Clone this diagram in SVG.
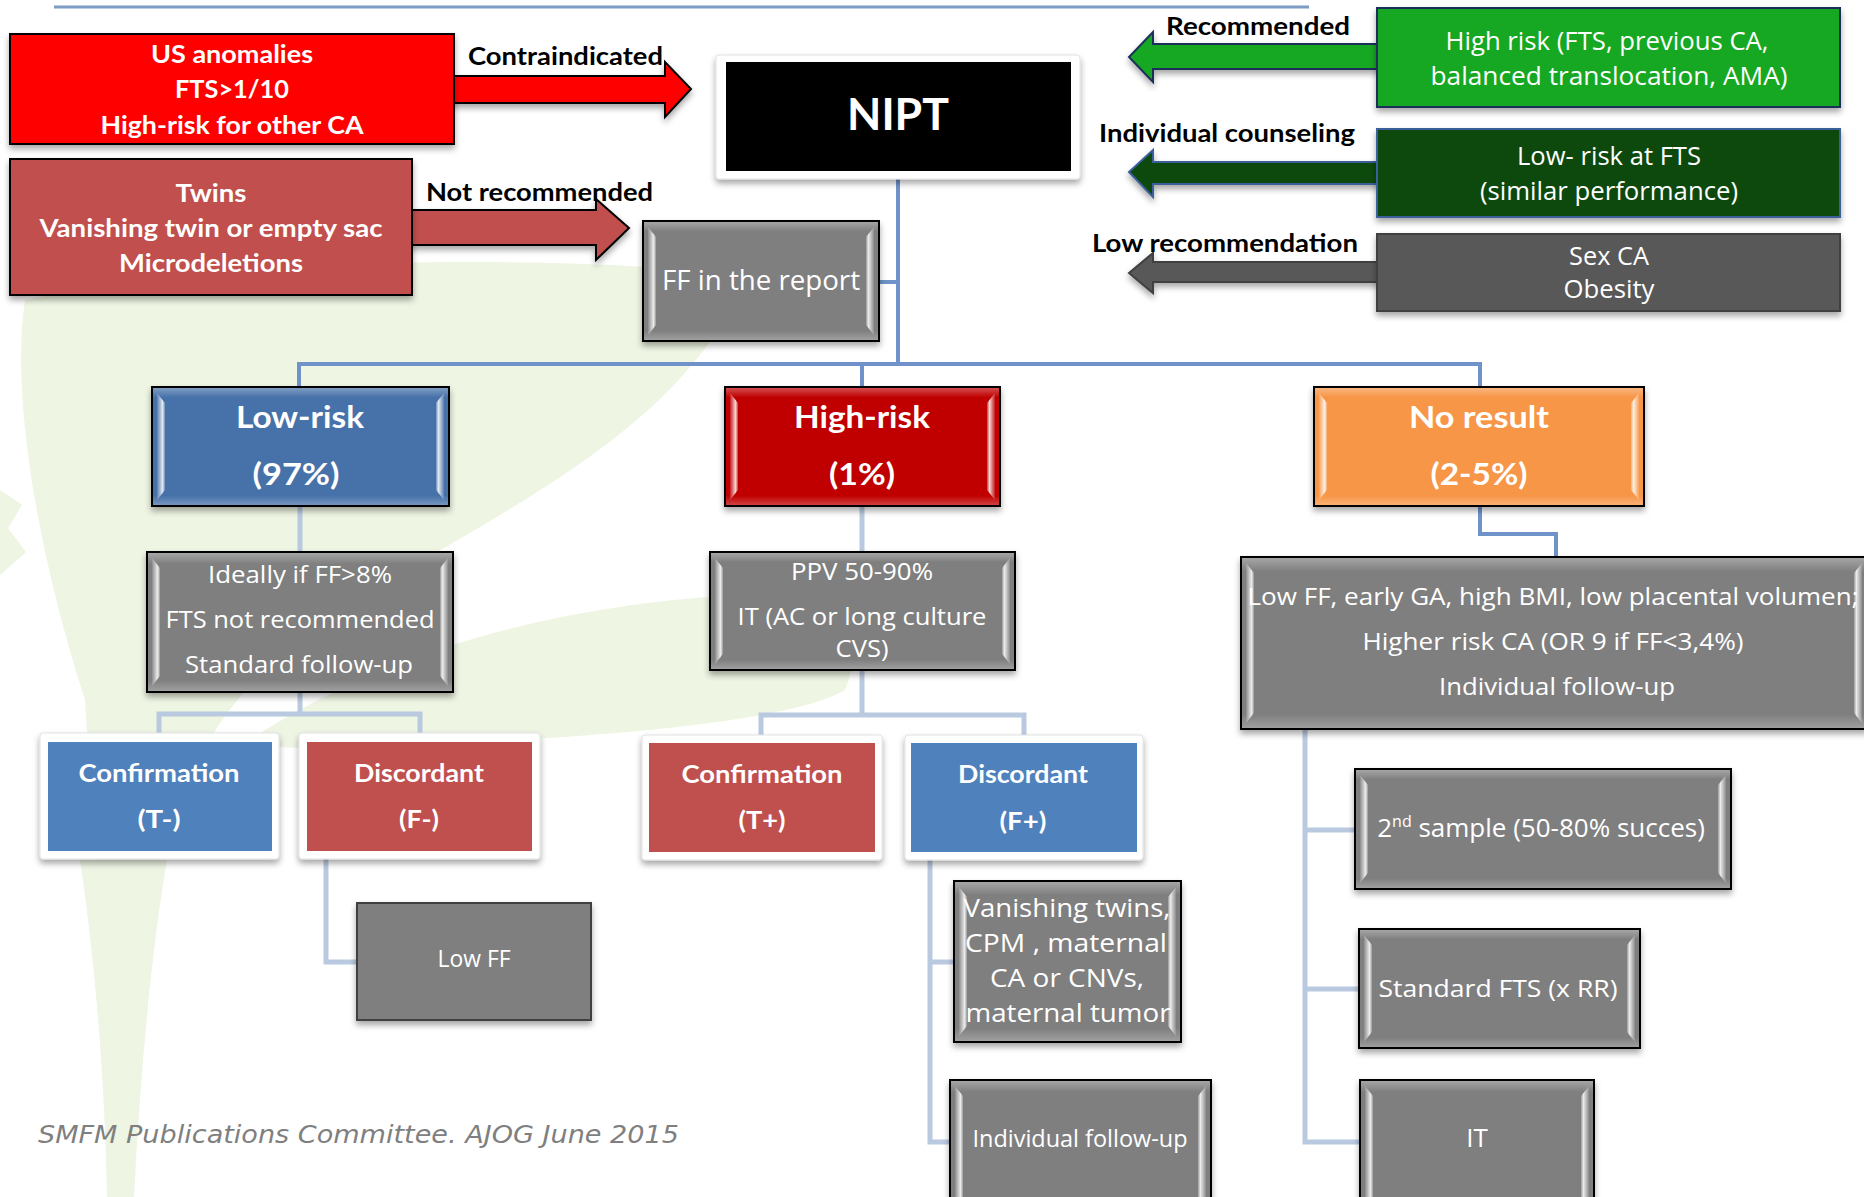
<svg xmlns="http://www.w3.org/2000/svg" width="1864" height="1197" viewBox="0 0 1864 1197">
<defs>
<style>
.t{font-family:"Open Sans","Liberation Sans",sans-serif;font-size:24px;fill:#fff;text-anchor:middle}
.tb{font-family:Lato,"Liberation Sans",sans-serif;font-weight:700;font-size:24px;fill:#fff;text-anchor:middle}
.big{font-size:30px}
.s25{font-size:25px}
.s26{font-size:26px}
.s28{font-size:28px}
.s44{font-size:44px}
.lbl{font-family:Lato,"Liberation Sans",sans-serif;font-weight:700;font-size:24px;fill:#000}
.bx{stroke:#000;stroke-width:2;filter:url(#sh)}
.gray{fill:#7f7f7f}
.ov{fill:url(#gV)}
.hl{fill:url(#gL)}
.hr{fill:url(#gR)}
.c1{fill:none;stroke:#6f92c8;stroke-width:4}
.c2{fill:none;stroke:#b9c9e0;stroke-width:5}
.leaf{fill:#eef5e3}
.frame{fill:#fff;stroke:#e2e2e2;stroke-width:1;filter:url(#sh)}
</style>
<filter id="sh" x="-10%" y="-10%" width="125%" height="135%">
<feDropShadow dx="0" dy="4" stdDeviation="3" flood-color="#000" flood-opacity="0.35"/>
</filter>
<linearGradient id="gL" x1="0" y1="0" x2="1" y2="0">
<stop offset="0" stop-color="#fff" stop-opacity="0.1"/>
<stop offset="0.7" stop-color="#fff" stop-opacity="0.85"/>
<stop offset="1" stop-color="#fff" stop-opacity="0.2"/>
</linearGradient>
<linearGradient id="gR" x1="1" y1="0" x2="0" y2="0">
<stop offset="0" stop-color="#fff" stop-opacity="0.1"/>
<stop offset="0.7" stop-color="#fff" stop-opacity="0.85"/>
<stop offset="1" stop-color="#fff" stop-opacity="0.2"/>
</linearGradient>
<linearGradient id="gV" x1="0" y1="0" x2="0" y2="1">
<stop offset="0" stop-color="#fff" stop-opacity="0.3"/>
<stop offset="0.08" stop-color="#fff" stop-opacity="0"/>
<stop offset="0.92" stop-color="#fff" stop-opacity="0"/>
<stop offset="1" stop-color="#fff" stop-opacity="0.25"/>
</linearGradient>
</defs>
<rect width="1864" height="1197" fill="#fff"/>

<g id="background">
<path class="leaf" d="M745,275 C600,258 250,250 25,300 C10,400 40,560 85,700 L95,860 L80,860 C95,960 105,1080 107,1197 L134,1197 C140,1080 150,960 167,860 L160,860 C200,700 300,620 446,547 C560,480 700,400 745,275 Z"/>
<path class="leaf" d="M250,740 C400,640 600,595 800,593 C850,597 862,650 845,690 C790,722 600,738 400,745 C330,748 280,752 250,740 Z"/>
<path class="leaf" d="M0,490 L22,505 L8,528 L26,552 L0,575 Z"/>
</g>

<path id="topline" d="M54,7 H1309" stroke="#7c9cc4" stroke-width="3" fill="none"/>

<g id="connectors">
<path class="c1" d="M898,171 V364"/>
<path class="c1" d="M879,282 H898"/>
<path class="c1" d="M299,387 V364 H1480 V387"/>
<path class="c1" d="M862,364 V387"/>
<path class="c2" d="M300,506 V552"/>
<path class="c2" d="M300,692 V714"/>
<path class="c2" d="M159,733 V714 H420 V733"/>
<path class="c2" d="M862,506 V552"/>
<path class="c2" d="M862,670 V715"/>
<path class="c2" d="M761,735 V715 H1024 V735"/>
<path class="c1" d="M1480,506 V534 H1556 V557" stroke="#8aa6d0"/>
<path class="c2" d="M326,859 V962 H357"/>
<path class="c2" d="M930,860 V1142 H950"/>
<path class="c2" d="M930,962 H954"/>
<path class="c2" d="M1305,729 V1142 H1360"/>
<path class="c2" d="M1305,830 H1355"/>
<path class="c2" d="M1305,989 H1359"/>
</g>

<g id="arrows">
<polygon points="440,76 665,76 665,62 691,89 665,117 665,103 440,103" fill="#ff0000" stroke="#000" stroke-width="2" filter="url(#sh)"/>
<polygon points="400,210 596,210 596,199 629,228 596,260 596,245 400,245" fill="#c0504d" stroke="#000" stroke-width="2" filter="url(#sh)"/>
<polygon points="1390,44 1153,44 1153,32 1129,57 1153,82 1153,69 1390,69" fill="#12a820" stroke="#1f2f5a" stroke-width="2" filter="url(#sh)"/>
<polygon points="1390,162 1153,162 1153,150 1129,172 1153,197 1153,184 1390,184" fill="#074a0e" stroke="#3a5f9a" stroke-width="2" filter="url(#sh)"/>
<polygon points="1390,262 1153,262 1153,253 1129,273 1153,293 1153,282 1390,282" fill="#595959" stroke="#404040" stroke-width="2" filter="url(#sh)"/>
<text class="lbl" x="468" y="65" textLength="195" lengthAdjust="spacingAndGlyphs">Contraindicated</text>
<text class="lbl" x="426" y="201" textLength="227" lengthAdjust="spacingAndGlyphs">Not recommended</text>
<text class="lbl" x="1166" y="35" textLength="184" lengthAdjust="spacingAndGlyphs">Recommended</text>
<text class="lbl" x="1099" y="142" textLength="256" lengthAdjust="spacingAndGlyphs">Individual counseling</text>
<text class="lbl" x="1092" y="252" textLength="266" lengthAdjust="spacingAndGlyphs">Low recommendation</text>
</g>

<g id="n-contra">
<rect x="10" y="34" width="444" height="110" fill="#ff0000" stroke="#000" stroke-width="2" filter="url(#sh)"/>
<text class="tb" x="232" y="63" textLength="162" lengthAdjust="spacingAndGlyphs">US anomalies</text>
<text class="tb" x="232" y="98" textLength="114" lengthAdjust="spacingAndGlyphs">FTS&gt;1/10</text>
<text class="tb" x="232" y="134" textLength="263" lengthAdjust="spacingAndGlyphs">High-risk for other CA</text>
</g>

<g id="n-notrec">
<rect x="10" y="159" width="402" height="136" fill="#c0504d" stroke="#000" stroke-width="2" filter="url(#sh)"/>
<text class="tb" x="211" y="202" textLength="71" lengthAdjust="spacingAndGlyphs">Twins</text>
<text class="tb" x="211" y="237" textLength="343" lengthAdjust="spacingAndGlyphs">Vanishing twin or empty sac</text>
<text class="tb" x="211" y="272" textLength="184" lengthAdjust="spacingAndGlyphs">Microdeletions</text>
</g>

<g id="n-nipt">
<rect class="frame" x="716" y="55" width="364" height="124" rx="3"/>
<rect x="726" y="62" width="345" height="109" fill="#000"/>
<text class="tb s44" x="898" y="130" textLength="102" lengthAdjust="spacingAndGlyphs">NIPT</text>
</g>

<g id="n-rec">
<rect x="1377" y="8" width="463" height="99" fill="#12a820" stroke="#1f2f5a" stroke-width="2" filter="url(#sh)"/>
<text class="t s25" x="1607" y="50" textLength="323" lengthAdjust="spacingAndGlyphs">High risk (FTS, previous CA,</text>
<text class="t s25" x="1609" y="85" textLength="357" lengthAdjust="spacingAndGlyphs">balanced  translocation, AMA)</text>
</g>

<g id="n-indiv">
<rect x="1377" y="129" width="463" height="88" fill="#074a0e" stroke="#3a5f9a" stroke-width="2" filter="url(#sh)"/>
<text class="t s25" x="1609" y="165" textLength="184" lengthAdjust="spacingAndGlyphs">Low- risk at FTS</text>
<text class="t s25" x="1609" y="200" textLength="258" lengthAdjust="spacingAndGlyphs">(similar performance)</text>
</g>

<g id="n-lowrec">
<rect x="1377" y="234" width="463" height="77" fill="#595959" stroke="#404040" stroke-width="2" filter="url(#sh)"/>
<text class="t s25" x="1609" y="265" textLength="80" lengthAdjust="spacingAndGlyphs">Sex CA</text>
<text class="t s25" x="1609" y="298" textLength="91" lengthAdjust="spacingAndGlyphs">Obesity</text>
</g>

<g id="n-ff">
<rect class="bx gray" x="643" y="221" width="236" height="120"/>
<rect class="ov" x="644" y="222" width="234" height="118"/>
<path class="hl" d="M648,227 L656,237 V325 L648,335 Z"/>
<path class="hr" d="M874,227 L866,237 V325 L874,335 Z"/>
<text class="t s28" x="761" y="290" textLength="198" lengthAdjust="spacingAndGlyphs">FF in the report</text>
</g>

<g id="n-lowrisk">
<rect class="bx" x="152" y="387" width="297" height="119" fill="#4672a9"/>
<rect class="ov" x="153" y="388" width="295" height="117"/>
<path class="hl" d="M157,393 L165,403 V490 L157,500 Z"/>
<path class="hr" d="M444,393 L436,403 V490 L444,500 Z"/>
<text class="tb big" x="300" y="428" textLength="128" lengthAdjust="spacingAndGlyphs">Low-risk</text>
<text class="tb big" x="296" y="485" textLength="87" lengthAdjust="spacingAndGlyphs">(97%)</text>
</g>

<g id="n-highrisk">
<rect class="bx" x="725" y="387" width="275" height="119" fill="#c00000"/>
<rect class="ov" x="726" y="388" width="273" height="117"/>
<path class="hl" d="M730,393 L738,403 V490 L730,500 Z"/>
<path class="hr" d="M995,393 L987,403 V490 L995,500 Z"/>
<text class="tb big" x="862" y="428" textLength="136" lengthAdjust="spacingAndGlyphs">High-risk</text>
<text class="tb big" x="862" y="485" textLength="66" lengthAdjust="spacingAndGlyphs">(1%)</text>
</g>

<g id="n-noresult">
<rect class="bx" x="1314" y="387" width="330" height="119" fill="#f79646"/>
<rect class="ov" x="1315" y="388" width="328" height="117"/>
<path class="hl" d="M1319,393 L1327,403 V490 L1319,500 Z"/>
<path class="hr" d="M1639,393 L1631,403 V490 L1639,500 Z"/>
<text class="tb big" x="1479" y="428" textLength="140" lengthAdjust="spacingAndGlyphs">No result</text>
<text class="tb big" x="1479" y="485" textLength="97" lengthAdjust="spacingAndGlyphs">(2-5%)</text>
</g>

<g id="n-ideal">
<rect class="bx gray" x="147" y="552" width="306" height="140"/>
<rect class="ov" x="148" y="553" width="304" height="138"/>
<path class="hl" d="M152,558 L160,568 V676 L152,686 Z"/>
<path class="hr" d="M448,558 L440,568 V676 L448,686 Z"/>
<text class="t" x="300" y="583" textLength="184" lengthAdjust="spacingAndGlyphs">Ideally if FF&gt;8%</text>
<text class="t" x="300" y="628" textLength="269" lengthAdjust="spacingAndGlyphs">FTS not recommended</text>
<text class="t" x="299" y="673" textLength="228" lengthAdjust="spacingAndGlyphs">Standard follow-up</text>
</g>

<g id="n-ppv">
<rect class="bx gray" x="710" y="552" width="305" height="118"/>
<rect class="ov" x="711" y="553" width="303" height="116"/>
<path class="hl" d="M715,558 L723,568 V654 L715,664 Z"/>
<path class="hr" d="M1010,558 L1002,568 V654 L1010,664 Z"/>
<text class="t" x="862" y="580" textLength="142" lengthAdjust="spacingAndGlyphs">PPV 50-90%</text>
<text class="t" x="862" y="625" textLength="249" lengthAdjust="spacingAndGlyphs">IT (AC or long culture</text>
<text class="t" x="862" y="657" textLength="53" lengthAdjust="spacingAndGlyphs">CVS)</text>
</g>

<g id="n-lowff-info">
<rect class="bx gray" x="1241" y="557" width="626" height="172"/>
<rect class="ov" x="1242" y="558" width="624" height="170"/>
<path class="hl" d="M1246,563 L1254,573 V713 L1246,723 Z"/>
<path class="hr" d="M1862,563 L1854,573 V713 L1862,723 Z"/>
<text class="t" x="1553" y="605" textLength="611" lengthAdjust="spacingAndGlyphs">Low FF, early GA, high BMI, low placental volumen;</text>
<text class="t" x="1553" y="650" textLength="381" lengthAdjust="spacingAndGlyphs">Higher risk CA (OR 9  if FF&lt;3,4%)</text>
<text class="t" x="1557" y="695" textLength="236" lengthAdjust="spacingAndGlyphs">Individual follow-up</text>
</g>

<g id="n-conf-tminus">
<rect class="frame" x="40" y="733" width="239" height="126" rx="3"/>
<rect x="48" y="742" width="224" height="109" fill="#4f81bd"/>
<text class="tb s25" x="159" y="782" textLength="161" lengthAdjust="spacingAndGlyphs">Confirmation</text>
<text class="tb s25" x="159" y="828" textLength="43" lengthAdjust="spacingAndGlyphs">(T-)</text>
</g>

<g id="n-disc-fminus">
<rect class="frame" x="299" y="733" width="241" height="126" rx="3"/>
<rect x="307" y="742" width="225" height="109" fill="#c0504d"/>
<text class="tb s25" x="419" y="782" textLength="130" lengthAdjust="spacingAndGlyphs">Discordant</text>
<text class="tb s25" x="419" y="828" textLength="40" lengthAdjust="spacingAndGlyphs">(F-)</text>
</g>

<g id="n-conf-tplus">
<rect class="frame" x="642" y="735" width="240" height="125" rx="3"/>
<rect x="649" y="743" width="226" height="109" fill="#c0504d"/>
<text class="tb s25" x="762" y="783" textLength="161" lengthAdjust="spacingAndGlyphs">Confirmation</text>
<text class="tb s25" x="762" y="829" textLength="47" lengthAdjust="spacingAndGlyphs">(T+)</text>
</g>

<g id="n-disc-fplus">
<rect class="frame" x="905" y="735" width="238" height="125" rx="3"/>
<rect x="911" y="743" width="226" height="109" fill="#4f81bd"/>
<text class="tb s25" x="1023" y="783" textLength="130" lengthAdjust="spacingAndGlyphs">Discordant</text>
<text class="tb s25" x="1023" y="830" textLength="47" lengthAdjust="spacingAndGlyphs">(F+)</text>
</g>

<g id="n-lowff">
<rect x="357" y="903" width="234" height="117" fill="#7f7f7f" stroke="#404040" stroke-width="2" filter="url(#sh)"/>
<text class="t" x="474" y="967" textLength="73" lengthAdjust="spacingAndGlyphs">Low FF</text>
</g>

<g id="n-vanishing">
<rect class="bx gray" x="954" y="881" width="227" height="161"/>
<rect class="ov" x="955" y="882" width="225" height="159"/>
<path class="hl" d="M959,887 L967,897 V1026 L959,1036 Z"/>
<path class="hr" d="M1176,887 L1168,897 V1026 L1176,1036 Z"/>
<text class="t s26" x="1067" y="917" textLength="207" lengthAdjust="spacingAndGlyphs">Vanishing twins,</text>
<text class="t s26" x="1066" y="952" textLength="202" lengthAdjust="spacingAndGlyphs">CPM , maternal</text>
<text class="t s26" x="1067" y="987" textLength="154" lengthAdjust="spacingAndGlyphs">CA or CNVs,</text>
<text class="t s26" x="1068" y="1022" textLength="205" lengthAdjust="spacingAndGlyphs">maternal tumor</text>
</g>

<g id="n-indfollow">
<rect class="bx gray" x="950" y="1080" width="261" height="140"/>
<rect class="ov" x="951" y="1081" width="259" height="138"/>
<path class="hl" d="M955,1086 L963,1096 V1204 L955,1214 Z"/>
<path class="hr" d="M1206,1086 L1198,1096 V1204 L1206,1214 Z"/>
<text class="t" x="1080" y="1147" textLength="215" lengthAdjust="spacingAndGlyphs">Individual follow-up</text>
</g>

<g id="n-second">
<rect class="bx gray" x="1355" y="769" width="376" height="120"/>
<rect class="ov" x="1356" y="770" width="374" height="118"/>
<path class="hl" d="M1360,775 L1368,785 V873 L1360,883 Z"/>
<path class="hr" d="M1726,775 L1718,785 V873 L1726,883 Z"/>
<text class="t s26" x="1541" y="837">2<tspan dy="-10" style="font-size:16px">nd</tspan><tspan dy="10"> sample (50-80% succes)</tspan></text>
</g>

<g id="n-stdfts">
<rect class="bx gray" x="1359" y="929" width="281" height="119"/>
<rect class="ov" x="1360" y="930" width="279" height="117"/>
<path class="hl" d="M1364,935 L1372,945 V1032 L1364,1042 Z"/>
<path class="hr" d="M1635,935 L1627,945 V1032 L1635,1042 Z"/>
<text class="t" x="1498" y="997" textLength="239" lengthAdjust="spacingAndGlyphs">Standard FTS (x  RR)</text>
</g>

<g id="n-it">
<rect class="bx gray" x="1360" y="1080" width="234" height="140"/>
<rect class="ov" x="1361" y="1081" width="232" height="138"/>
<path class="hl" d="M1365,1086 L1373,1096 V1204 L1365,1214 Z"/>
<path class="hr" d="M1589,1086 L1581,1096 V1204 L1589,1214 Z"/>
<text class="t s26" x="1477" y="1147">IT</text>
</g>

<text id="footer" x="38" y="1143" style="font-family:'DejaVu Sans',Verdana,sans-serif;font-style:italic;font-size:25px" fill="#7f7f7f" textLength="641" lengthAdjust="spacingAndGlyphs">SMFM Publications Committee. AJOG June 2015</text>
</svg>
